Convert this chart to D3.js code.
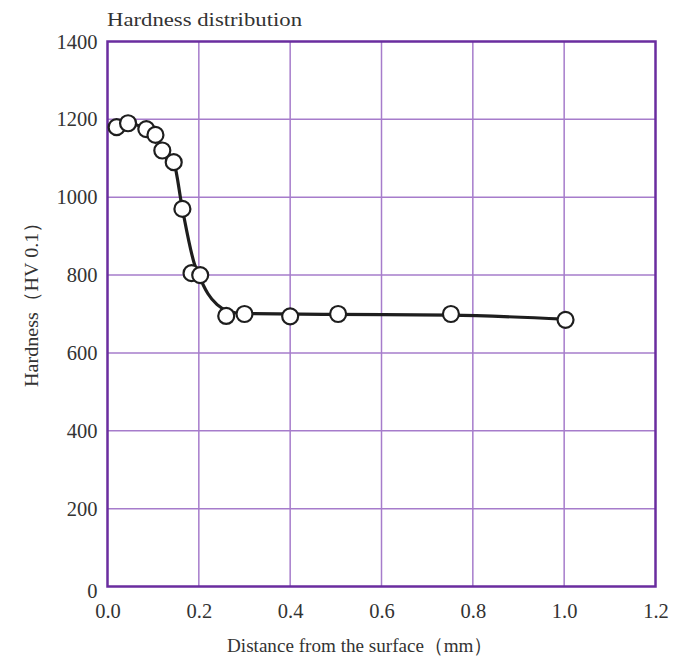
<!DOCTYPE html>
<html>
<head>
<meta charset="utf-8">
<script src="https://cdn.jsdelivr.net/npm/d3@7"></script>
<style>
  html, body { margin: 0; padding: 0; background: #fff; }
  svg text { font-family: "Liberation Serif", "Times New Roman", serif; fill: #333; }
</style>
</head>
<body>
<svg id="chart" width="673" height="659"></svg>
<script>
// Measured hardness profile: depth below the surface (mm) and Vickers hardness (HV 0.1)
const depth    = [0.02, 0.045, 0.085, 0.105, 0.12, 0.145, 0.164, 0.184, 0.203, 0.26, 0.30, 0.40, 0.505, 0.752, 1.003];
const hardness = [1180, 1190, 1175, 1160, 1120, 1090, 970, 805, 800, 695, 700, 694, 700, 700, 685];

// Smoothed profile curve drawn behind the measurements
const fitDepth    = [0.02, 0.045, 0.085, 0.105, 0.12, 0.145, 0.164, 0.19, 0.2, 0.22, 0.24, 0.265, 0.30, 0.50, 0.75, 1.0];
const fitHardness = [1180, 1190, 1175, 1160, 1120, 1090, 970, 830, 800, 752, 724, 707, 701, 699, 697, 687];

const xTicks = [0, 0.2, 0.4, 0.6, 0.8, 1.0, 1.2];
const yTicks = [0, 200, 400, 600, 800, 1000, 1200, 1400];

const titleText = "Hardness distribution";
const xLabel = "Distance from the surface（mm）";
const yLabel = "Hardness（HV 0.1）";

const svg = d3.select("#chart");
const margin = { left: 107.5, right: 17.5, top: 41.5, bottom: 72.5 };
const W = +svg.attr("width"), H = +svg.attr("height");
const x0 = margin.left, x1 = W - margin.right, y0 = H - margin.bottom, y1 = margin.top;

const x = d3.scaleLinear().domain([0, 1.2]).range([x0, x1]);
const y = d3.scaleLinear().domain([0, 1400]).range([y0, y1]);

// grid lines
const grid = svg.append("g").attr("stroke", "#a67ccb").attr("stroke-width", 1.5);
grid.selectAll("line.v").data(xTicks.slice(1, -1)).join("line")
  .attr("x1", d => x(d)).attr("x2", d => x(d)).attr("y1", y1).attr("y2", y0);
grid.selectAll("line.h").data(yTicks.slice(1, -1)).join("line")
  .attr("x1", x0).attr("x2", x1).attr("y1", d => y(d)).attr("y2", d => y(d));

// frame
svg.append("rect").attr("x", x0).attr("y", y1).attr("width", x1 - x0).attr("height", y0 - y1)
  .attr("fill", "none").attr("stroke", "#6a2d9f").attr("stroke-width", 2.5);

// axes (tick labels only)
const xAxis = d3.axisBottom(x).tickValues(xTicks).tickFormat(d3.format(".1f")).tickSize(0).tickPadding(17);
const gx = svg.append("g").attr("transform", `translate(0,${y0})`).call(xAxis);
const yAxis = d3.axisLeft(y).tickValues(yTicks).tickFormat(d3.format("d")).tickSize(0).tickPadding(10);
const gy = svg.append("g").attr("transform", `translate(${x0},0)`).call(yAxis);
[gx, gy].forEach(g => {
  g.select(".domain").remove();
  g.selectAll("text").style("font-family", '"Liberation Serif", serif').style("font-size", "20.5px").attr("fill", "#333");
});
gy.selectAll("text").filter(d => d === 0).attr("dy", "0.52em");

// smoothed curve
const fitPts = fitDepth.map((d, i) => [x(d), y(fitHardness[i])]);
svg.append("path")
  .attr("d", d3.line().curve(d3.curveMonotoneX)(fitPts))
  .attr("fill", "none").attr("stroke", "#1e1e1e").attr("stroke-width", 3.2);

// measurement points
const pts = depth.map((d, i) => [x(d), y(hardness[i])]);
svg.append("g").selectAll("circle").data(pts).join("circle")
  .attr("cx", d => d[0]).attr("cy", d => d[1]).attr("r", 8)
  .attr("fill", "#fff").attr("stroke", "#1e1e1e").attr("stroke-width", 2.2);

// titles
svg.append("text").attr("x", 107).attr("y", 26).attr("font-size", 19.5)
  .attr("textLength", 195).attr("lengthAdjust", "spacingAndGlyphs").text(titleText);
svg.append("text").attr("x", 227).attr("y", 652).attr("font-size", 19.5)
  .attr("textLength", 266).attr("lengthAdjust", "spacingAndGlyphs").text(xLabel);
svg.append("text").attr("transform", `translate(38,387) rotate(-90)`)
  .attr("font-size", 19.5).attr("textLength", 175).attr("lengthAdjust", "spacingAndGlyphs").text(yLabel);
</script>
</body>
</html>
